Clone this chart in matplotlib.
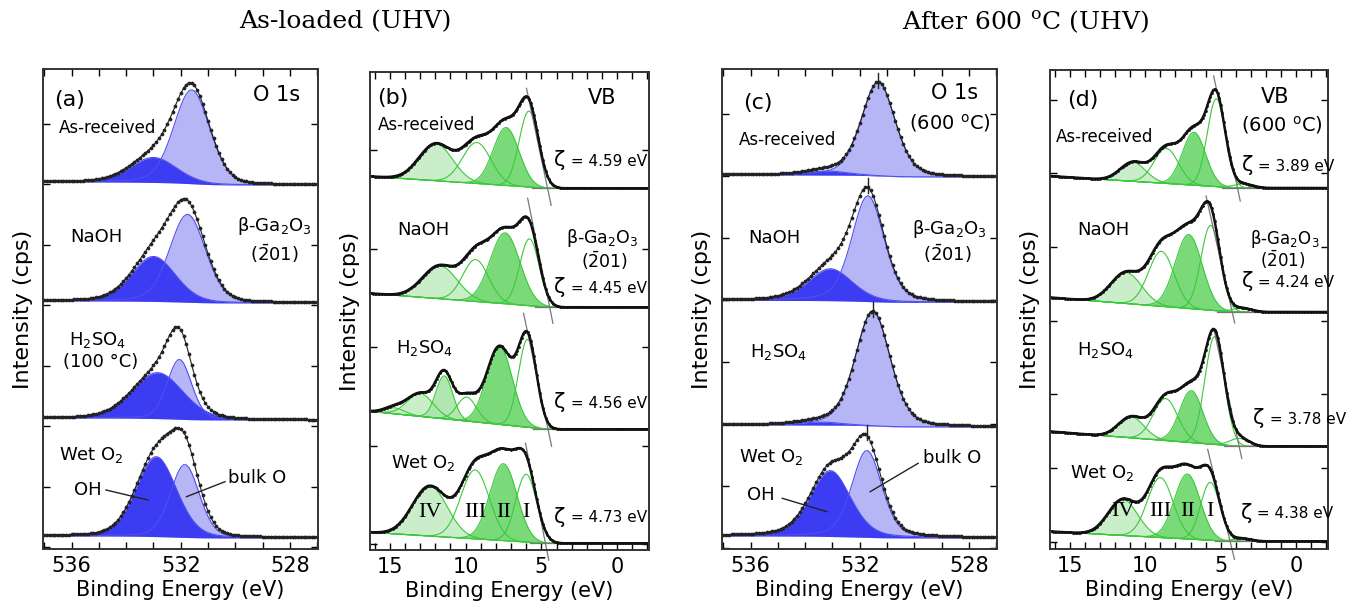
import numpy as np
import matplotlib.pyplot as plt
from matplotlib.ticker import MultipleLocator

plt.rcParams['font.family'] = ['DejaVu Sans']
plt.rcParams['mathtext.fontset'] = 'dejavusans'

samples = ['As-received', 'NaOH', 'H$_2$SO$_4$', 'Wet O$_2$']

# O 1s fits: (center eV, height, fwhm eV) for each sample, top to bottom
a_bulk = [(531.60, 94, 1.55), (531.75, 88, 1.55), (532.05, 60, 1.05), (531.85, 73, 1.25)]
a_oh = [(533.00, 25, 2.0), (533.00, 45, 1.9), (532.85, 46, 2.2), (532.90, 80, 1.75)]
a_base = [364, 246, 129, 11]
a_step = [3, 2, 2, 2]

c_bulk = [(531.32, 94, 1.45), (531.70, 106, 1.4), (531.52, 115, 1.5), (531.74, 87, 1.3)]
c_oh = [(533.20, 4, 1.8), (533.08, 32, 1.9), (533.45, 3, 1.8), (533.08, 66, 1.75)]
c_base = [372, 246.6, 122, 11]
c_step = [2, 2, 2, 2]

# VB fits: (center eV, height, fwhm eV, fill)
b_peaks = [
    [(11.95, 37, 2.6, 'light'), (9.26, 41, 2.2, 'open'), (7.32, 58, 2.0, 'dark'), (5.82, 76, 1.5, 'open')],
    [(11.69, 33, 2.7, 'light'), (9.33, 42, 2.0, 'open'), (7.39, 71, 2.3, 'dark'), (5.78, 67, 1.5, 'open')],
    [(14.7, 6, 1.6, 'light'), (12.97, 23, 2.0, 'light'), (11.4, 43, 1.3, 'mid'), (9.92, 24, 1.5, 'open'),
     (7.76, 78, 2.0, 'dark'), (5.91, 88, 1.4, 'open')],
    [(12.35, 50, 2.7, 'light'), (9.37, 69, 2.2, 'open'), (7.5, 77, 2.1, 'dark'), (6.0, 68, 1.6, 'open')],
]
b_base = [361.7, 242.7, 120.7, 6.7]
b_bgleft = [12, 14, 18, 11]
b_zeta = [4.59, 4.45, 4.56, 4.73]
b_slope = [72, 75, 72, 76]
b_edge_top = [100, 109, 116, 100]
b_edge_bot = [17, 16, 17, 17]

d_peaks = [
    [(10.81, 19, 2.0, 'light'), (8.6, 35, 1.9, 'open'), (6.77, 53, 1.8, 'dark'), (5.29, 88, 1.4, 'open'),
     (3.5, 4, 1.5, 'open')],
    [(11.25, 31, 2.4, 'light'), (8.93, 55, 2.0, 'open'), (7.12, 74, 2.1, 'dark'), (5.67, 85, 1.5, 'open'),
     (3.6, 4, 1.5, 'open')],
    [(10.92, 21, 2.0, 'light'), (8.65, 42, 1.9, 'open'), (6.95, 52, 1.8, 'dark'), (5.4, 108, 1.5, 'open'),
     (3.75, 8, 1.5, 'open')],
    [(11.47, 36, 2.3, 'light'), (9.0, 60, 2.0, 'open'), (7.21, 65, 2.0, 'dark'), (5.69, 58, 1.5, 'open'),
     (3.6, 3, 1.5, 'open')],
]
d_base = [361, 237, 102.6, 7.6]
d_bgleft = [12, 14.6, 15, 10]
d_zeta = [3.89, 4.24, 3.78, 4.38]
d_slope = [71, 67, 70, 62]
d_edge_top = [112, 116, 115, 92]
d_edge_bot = [13, 11, 12, 18]

component_names = ['IV', 'III', 'II', 'I']

LIGHT_BLUE = '#b6b6f6'
DARK_BLUE = '#3c3cf2'
EDGE_BLUE = '#4f4ff0'
GREEN = '#3cc83c'
FILLS = {'light': '#c3edc3', 'mid': '#a8e4a8', 'dark': '#6cd66c'}

W, H = 1359, 610
fig = plt.figure(figsize=(W / 100, H / 100), dpi=100)


def make_ax(l, r, t, b):
    ax = fig.add_axes([l / W, 1 - b / H, (r - l) / W, (b - t) / H])
    ax.set_ylim(0, b - t)
    for s in ax.spines.values():
        s.set_linewidth(1.4)
        s.set_color('#333333')
    ax.tick_params(which='both', direction='in', top=True, right=True, length=5, width=1,
                   labelleft=False, labelsize=15, pad=5)
    ax.set_xlabel('Binding Energy (eV)', fontsize=15, labelpad=3)
    ax.set_ylabel('Intensity (cps)', fontsize=16, labelpad=7)
    return ax


def pv(x, c, h, w, eta=0.0):
    s = w / 2.3548
    g = np.exp(-(x - c) ** 2 / (2 * s ** 2))
    lo = 1 / (1 + ((x - c) / (w / 2)) ** 2)
    return h * ((1 - eta) * g + eta * lo)


def zeta_label(ax, x, y, z):
    ax.text(x, y, 'ζ', fontsize=15, ha='right', va='center')
    ax.text(x, y - 1, f' = {z:.2f} eV', fontsize=11, ha='left', va='center')


def o1s_panel(ax, bulk, oh, base, step, eta, ticks):
    x = np.arange(527.0, 537.06, 0.1)
    ax.set_xlim(537.05, 526.97)
    ax.set_xticks([536, 532, 528])
    ax.xaxis.set_minor_locator(MultipleLocator(1))
    ax.set_yticks(ticks)
    for i in range(4):
        bk = pv(x, *bulk[i], eta)
        o = pv(x, *oh[i], eta)
        tot = bk + o
        bg = step[i] * np.cumsum(tot) / tot.sum()
        y0 = base[i] + bg
        ax.fill_between(x, y0, y0 + bk, color=LIGHT_BLUE, lw=0)
        ax.plot(x, y0 + bk, color=EDGE_BLUE, lw=0.8)
        ax.fill_between(x, y0, y0 + o, color=DARK_BLUE, lw=0)
        ax.plot(x, y0 + o, color=EDGE_BLUE, lw=0.8)
        ax.plot(x, y0 + tot, color='#222222', lw=0.8, marker='o', ms=2.7, mew=0)
    return x


def vb_panel(ax, peaks, base, bgleft, zeta, slope, etop, ebot, ticks):
    x = np.arange(-2.1, 16.35, 0.1)
    ax.set_xlim(16.3, -2.1)
    ax.set_xticks([15, 10, 5, 0])
    ax.xaxis.set_minor_locator(MultipleLocator(1))
    ax.set_yticks(ticks)
    for i in range(4):
        bg = bgleft[i] * np.clip((x - zeta[i]) / (16.3 - zeta[i]), 0, 1)
        y0 = base[i] + bg
        comps = [pv(x, c, h, w) for c, h, w, _ in peaks[i]]
        m = x > zeta[i] - 1.2
        for (c, h, w, f), cp in zip(peaks[i], comps):
            if f != 'open':
                ax.fill_between(x[m], y0[m], y0[m] + cp[m], color=FILLS[f], lw=0, alpha=0.9)
        for cp in comps:
            ax.plot(x[m], y0[m] + cp[m], color=GREEN, lw=0.8)
        ax.plot(x[m], y0[m], color=GREEN, lw=0.8)
        # leading-edge extrapolation and baseline
        z = zeta[i]
        ax.plot([z + etop[i] / slope[i], z - ebot[i] / slope[i]],
                [base[i] + etop[i], base[i] - ebot[i]], color='#777777', lw=0.9, clip_on=False)
        ax.plot([z + 1.0, -2.1], [base[i], base[i]], color='#777777', lw=0.9)
        ax.plot(x, y0 + np.sum(comps, axis=0), color='#111111', lw=1.8, marker='o', ms=2, mew=0)


# (a) O 1s as loaded
ax_a = make_ax(43, 318, 69, 549)
o1s_panel(ax_a, a_bulk, a_oh, a_base, a_step, 0.2, np.arange(2, 480, 60.5))
ax_a.text(536.06, 449, '(a)', fontsize=16, ha='center', va='center')
ax_a.text(528.5, 454, 'O 1s', fontsize=15, ha='center', va='center')
ax_a.text(534.67, 421, samples[0], fontsize=12, ha='center', va='center')
ax_a.text(535.11, 312, samples[1], fontsize=13, ha='center', va='center')
ax_a.text(528.55, 323, 'β-Ga$_2$O$_3$', fontsize=13, ha='center', va='center')
ax_a.text(528.55, 295, r'($\bar{2}$01)', fontsize=13, ha='center', va='center')
ax_a.text(535.04, 209, samples[2], fontsize=13, ha='center', va='center')
ax_a.text(534.93, 187, '(100 °C)', fontsize=13, ha='center', va='center')
ax_a.text(535.29, 94, samples[3], fontsize=13, ha='center', va='center')
ax_a.text(535.4, 59, 'OH', fontsize=13, ha='center', va='center')
ax_a.plot([534.74, 533.2], [59, 49], color='#222222', lw=1)
ax_a.text(529.21, 71, 'bulk O', fontsize=13, ha='center', va='center')
ax_a.plot([530.38, 531.79], [67.3, 52.3], color='#222222', lw=1)

# (b) VB as loaded
ax_b = make_ax(370, 649, 72, 550)
vb_panel(ax_b, b_peaks, b_base, b_bgleft, b_zeta, b_slope, b_edge_top, b_edge_bot,
         np.arange(6, 478, 98.5))
ax_b.text(14.8, 452, '(b)', fontsize=16, ha='center', va='center')
ax_b.text(0.97, 452, 'VB', fontsize=15, ha='center', va='center')
ax_b.text(12.57, 425, samples[0], fontsize=12, ha='center', va='center')
ax_b.text(12.75, 320, samples[1], fontsize=13, ha='center', va='center')
ax_b.text(0.97, 312, 'β-Ga$_2$O$_3$', fontsize=12.5, ha='center', va='center')
ax_b.text(0.84, 289, r'($\bar{2}$01)', fontsize=12.5, ha='center', va='center')
ax_b.text(12.68, 202, samples[2], fontsize=13, ha='center', va='center')
ax_b.text(12.75, 87, samples[3], fontsize=13, ha='center', va='center')
for yz, z in zip([390, 263, 148, 33], b_zeta):
    zeta_label(ax_b, 3.4, yz, z)
for (c, h, w, f), name in zip(b_peaks[3], component_names):
    ax_b.text(c, b_base[3] + 31, name, fontsize=16, family='Liberation Serif',
              ha='center', va='center')

# (c) O 1s after 600 C
ax_c = make_ax(722, 997, 69, 549)
xc = o1s_panel(ax_c, c_bulk, c_oh, c_base, c_step, 0.3, np.arange(0.6, 480, 62))
for i in range(4):
    tot = pv(xc, *c_bulk[i], 0.3) + pv(xc, *c_oh[i], 0.3)
    top = c_base[i] + tot.max() + 1
    ax_c.plot([c_bulk[i][0]] * 2, [top - 6, top + 9], color='#222222', lw=1)
ax_c.text(535.74, 446, '(c)', fontsize=16, ha='center', va='center')
ax_c.text(528.52, 456, 'O 1s', fontsize=15, ha='center', va='center')
ax_c.text(528.7, 426, r'(600 $^{\mathregular{o}}$C)', fontsize=14, ha='center', va='center')
ax_c.text(534.65, 409, samples[0], fontsize=12, ha='center', va='center')
ax_c.text(535.12, 311, samples[1], fontsize=13, ha='center', va='center')
ax_c.text(528.7, 320, 'β-Ga$_2$O$_3$', fontsize=13, ha='center', va='center')
ax_c.text(528.77, 295, r'($\bar{2}$01)', fontsize=13, ha='center', va='center')
ax_c.text(534.98, 197, samples[2], fontsize=13, ha='center', va='center')
ax_c.text(535.23, 92, samples[3], fontsize=13, ha='center', va='center')
ax_c.text(535.64, 54, 'OH', fontsize=13, ha='center', va='center')
ax_c.plot([534.84, 533.2], [50.7, 37.3], color='#222222', lw=1)
ax_c.text(528.63, 91, 'bulk O', fontsize=13, ha='center', va='center')
ax_c.plot([529.86, 531.62], [85.7, 57.3], color='#222222', lw=1)

# (d) VB after 600 C
ax_d = make_ax(1050, 1328, 70, 549)
vb_panel(ax_d, d_peaks, d_base, d_bgleft, d_zeta, d_slope, d_edge_top, d_edge_bot,
         np.arange(7.3, 479, 73.7))
ax_d.text(14.14, 449, '(d)', fontsize=16, ha='center', va='center')
ax_d.text(1.43, 452, 'VB', fontsize=15, ha='center', va='center')
ax_d.text(0.97, 424, r'(600 $^{\mathregular{o}}$C)', fontsize=14, ha='center', va='center')
ax_d.text(12.68, 412, samples[0], fontsize=12, ha='center', va='center')
ax_d.text(12.75, 319, samples[1], fontsize=13, ha='center', va='center')
ax_d.text(0.77, 310, 'β-Ga$_2$O$_3$', fontsize=12, ha='center', va='center')
ax_d.text(0.9, 289, r'($\bar{2}$01)', fontsize=12, ha='center', va='center')
ax_d.text(12.62, 199, samples[2], fontsize=13, ha='center', va='center')
ax_d.text(12.82, 76, samples[3], fontsize=13, ha='center', va='center')
for xz, yz, z in zip([2.85, 2.85, 2.1, 2.9], [384, 268, 131, 36], d_zeta):
    zeta_label(ax_d, xz, yz, z)
for (c, h, w, f), name in zip(d_peaks[3], component_names):
    ax_d.text(c, d_base[3] + 30, name, fontsize=16, family='Liberation Serif',
              ha='center', va='center')

fig.text(345 / W, 1 - 22 / H, 'As-loaded (UHV)', family='DejaVu Serif', fontsize=18,
         ha='center', va='center')
fig.text(1025 / W, 1 - 22 / H, r'After 600 $^{\mathregular{o}}$C (UHV)', family='DejaVu Serif',
         fontsize=18, ha='center', va='center')

fig.savefig('out.png', dpi=100)
